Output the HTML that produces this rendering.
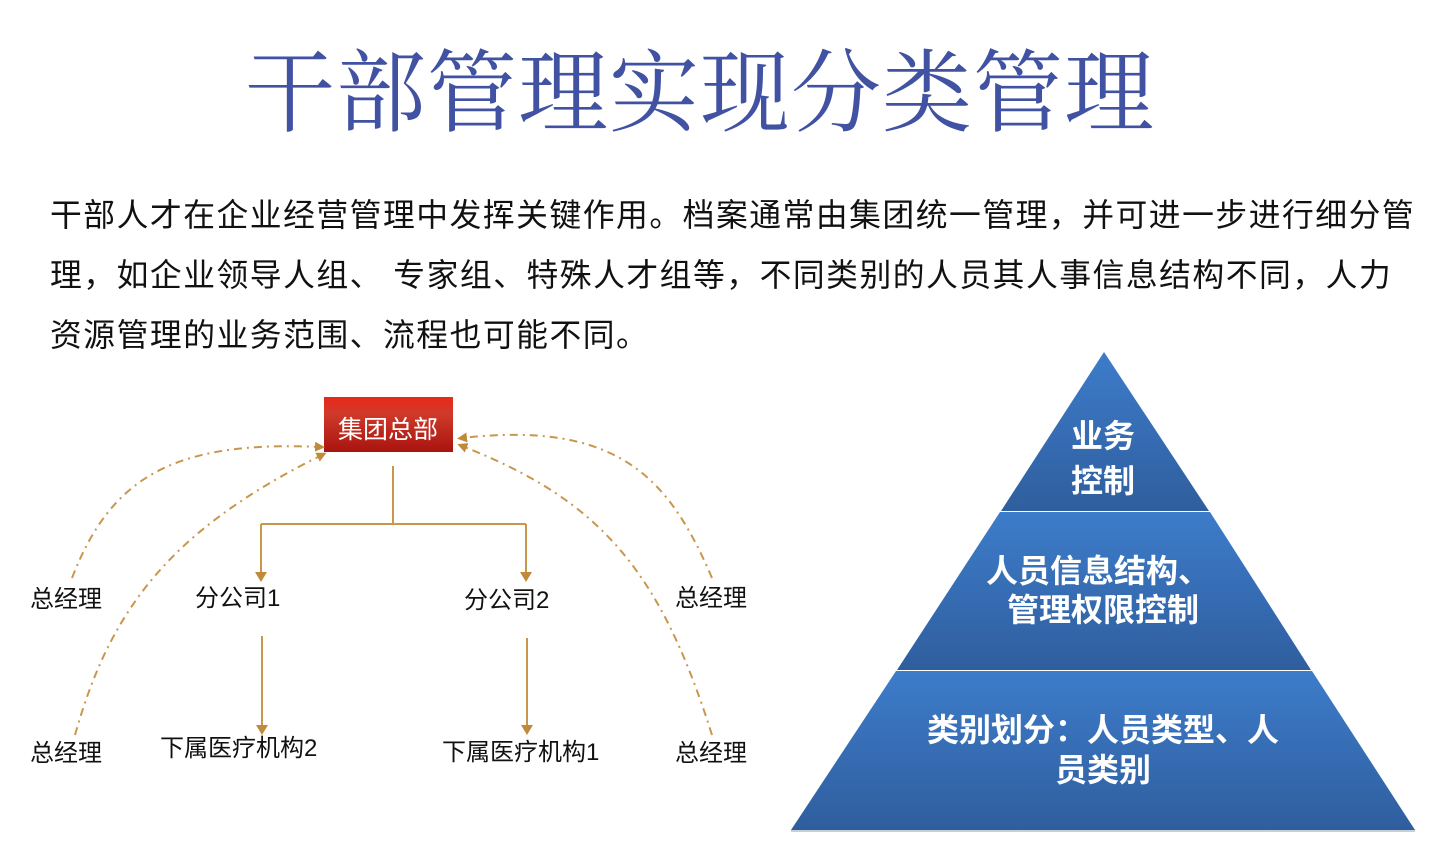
<!DOCTYPE html>
<html><head><meta charset="utf-8"><style>
html,body{margin:0;padding:0;background:#fff;}
body{width:1438px;height:843px;position:relative;overflow:hidden;font-family:"Liberation Sans","Noto Sans CJK SC",sans-serif;}
.t{position:absolute;white-space:nowrap;}
#title{left:245px;top:35px;font-family:"Liberation Serif","Noto Serif CJK SC",serif;font-size:90px;color:#4152a3;letter-spacing:1px;line-height:120px;}
#para{position:absolute;left:50px;top:185px;width:1400px;font-size:31.8px;letter-spacing:1.5px;line-height:60px;color:#111;white-space:nowrap;}
.lb{position:absolute;font-size:24px;color:#111;white-space:nowrap;line-height:30px;}
</style></head><body>
<div id="title" class="t">干部管理实现分类管理</div>
<div id="para">干部人才在企业经营管理中发挥关键作用。档案通常由集团统一管理，并可进一步进行细分管<br>理，如企业领导人组、 专家组、特殊人才组等，不同类别的人员其人事信息结构不同，人力<br>资源管理的业务范围、流程也可能不同。</div>

<svg width="1438" height="843" style="position:absolute;left:0;top:0" xmlns="http://www.w3.org/2000/svg">
<defs>
<linearGradient id="rg" x1="0" y1="0" x2="0" y2="1">
<stop offset="0" stop-color="#e8281a"/><stop offset="0.3" stop-color="#d03a2a"/><stop offset="1" stop-color="#a81410"/></linearGradient>
<linearGradient id="bg" x1="0" y1="0" x2="0" y2="1">
<stop offset="0" stop-color="#3d7cca"/><stop offset="1" stop-color="#2f5e9e"/></linearGradient>
<marker id="ah" markerWidth="10" markerHeight="10" refX="5" refY="5" orient="auto" markerUnits="userSpaceOnUse"><path d="M0,0 L10,5 L0,10 z" fill="#c08a3a"/></marker>
</defs>
<rect x="324" y="397" width="129" height="55" fill="url(#rg)"/>
<text x="388" y="438" fill="#fff" font-size="25" text-anchor="middle" font-family="Liberation Sans, Noto Sans CJK SC, sans-serif">集团总部</text>
<g stroke="#c8974c" stroke-width="2" fill="none">
<path d="M393 466 V523 M261 524 H526 M261 524 V575 M526 524 V575 M262 636 V730 M527 638 V730"/>
</g>
<g fill="#c08a3a">
<path d="M255 572 h12 l-6 10z M520 572 h12 l-6 10z M256 725 h12 l-6 10z M521 725 h12 l-6 10z"/>
</g>
<g stroke="#c8974c" stroke-width="2" fill="none" stroke-dasharray="8,5,2,5">
<path d="M72 578 C110 480 170 440 320 447" marker-end="url(#ah)"/>
<path d="M75 735 C110 610 170 530 322 455" marker-end="url(#ah)"/>
<path d="M712 578 C670 480 620 420 462 438" marker-end="url(#ah)"/>
<path d="M712 735 C660 570 600 500 462 446" marker-end="url(#ah)"/>
</g>
<polygon points="1104,352 1209,511 1001,511" fill="url(#bg)"/>
<polygon points="1000,512 1210,512 1311,670 897,670" fill="url(#bg)"/>
<polygon points="896,671 1312,671 1415,830 791,830" fill="url(#bg)"/>
<line x1="791" y1="831" x2="1415" y2="831" stroke="#c8cfd8" stroke-width="2"/>
<g fill="#fff" font-weight="bold" font-family="Liberation Sans, Noto Sans CJK SC, sans-serif" text-anchor="middle">
<text x="1103" y="447" font-size="32">业务</text>
<text x="1103" y="492" font-size="32">控制</text>
<text x="1098" y="582" font-size="32">人员信息结构、</text>
<text x="1103" y="621" font-size="32">管理权限控制</text>
<text x="1103" y="741" font-size="32">类别划分：人员类型、人</text>
<text x="1103" y="781" font-size="32">员类别</text>
</g>
</svg>
<div class="lb" style="left:30px;top:585px">总经理</div>
<div class="lb" style="left:30px;top:739px">总经理</div>
<div class="lb" style="left:675px;top:584px">总经理</div>
<div class="lb" style="left:675px;top:739px">总经理</div>
<div class="lb" style="left:195px;top:584px">分公司1</div>
<div class="lb" style="left:464px;top:586px">分公司2</div>
<div class="lb" style="left:160px;top:734px">下属医疗机构2</div>
<div class="lb" style="left:442px;top:738px">下属医疗机构1</div>
</body></html>
